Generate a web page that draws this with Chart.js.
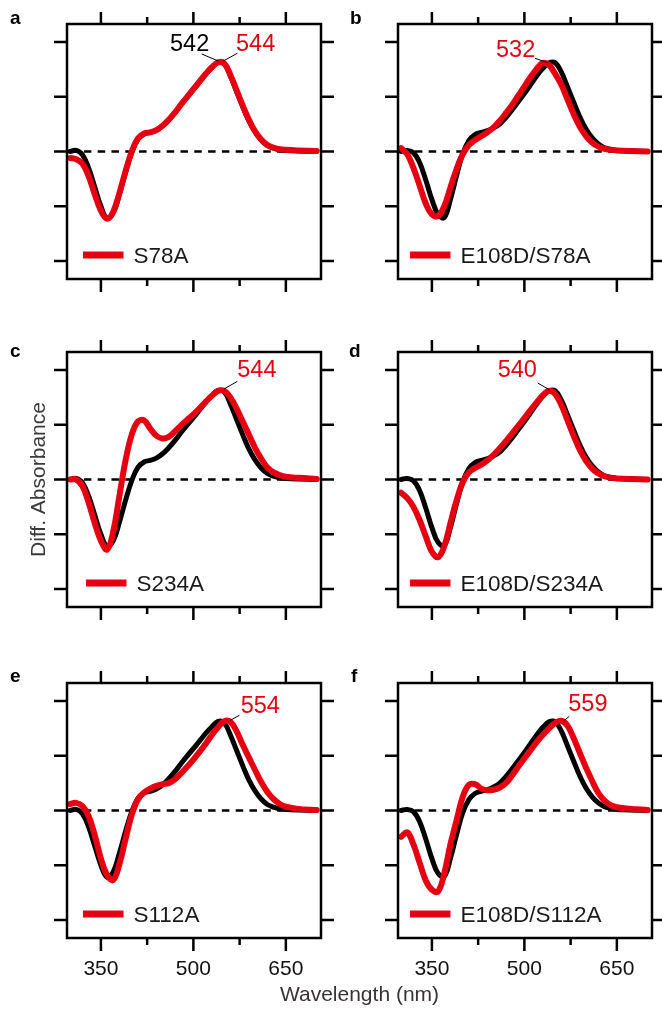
<!DOCTYPE html>
<html><head><meta charset="utf-8">
<script src="https://cdn.jsdelivr.net/npm/chart.js@4.4.1/dist/chart.umd.min.js"></script>
<style>
html,body{margin:0;padding:0;background:#fff;}
#wrap{position:relative;width:662px;height:1012px;overflow:hidden;background:#fff;}
#wrap canvas{position:absolute;left:0;top:0;}
</style></head><body><div id="wrap"></div>
<script>
// ---------- DATA ----------
const wavelengths = [300,310,320,330,340,350,360,370,380,390,400,410,420,430,440,450,460,470,480,490,500,510,520,530,540,550,560,570,580,590,600,610,620,630,640,650,670,700];

// reference spectra (black)
const blackWT    = [0.00,0.02,-0.06,-0.30,-0.65,-1.00,-1.22,-1.12,-0.78,-0.38,-0.02,0.22,0.32,0.35,0.39,0.47,0.58,0.71,0.86,1.00,1.13,1.27,1.41,1.53,1.63,1.60,1.38,1.10,0.82,0.56,0.36,0.21,0.11,0.06,0.03,0.02,0.01,0.00];
const blackE108D = [0.00,0.02,-0.02,-0.20,-0.52,-0.88,-1.15,-1.21,-0.88,-0.44,-0.04,0.20,0.31,0.35,0.38,0.43,0.50,0.62,0.76,0.91,1.06,1.22,1.38,1.52,1.62,1.62,1.45,1.18,0.90,0.63,0.41,0.25,0.14,0.07,0.04,0.02,0.01,0.00];

// mutant spectra (red)
const redS78A       = [-0.12,-0.14,-0.22,-0.45,-0.78,-1.08,-1.23,-1.10,-0.76,-0.36,0.00,0.24,0.33,0.35,0.39,0.47,0.58,0.71,0.86,1.00,1.14,1.28,1.42,1.54,1.63,1.61,1.40,1.12,0.84,0.58,0.37,0.22,0.12,0.07,0.04,0.03,0.02,0.01];
const redE108DS78A  = [0.06,-0.05,-0.30,-0.62,-0.95,-1.15,-1.18,-1.00,-0.66,-0.32,-0.05,0.12,0.21,0.28,0.35,0.44,0.56,0.70,0.85,1.02,1.19,1.36,1.51,1.62,1.58,1.42,1.22,0.95,0.68,0.45,0.28,0.16,0.09,0.05,0.03,0.02,0.01,0.00];
const redS234A      = [0.00,0.00,-0.12,-0.42,-0.80,-1.12,-1.28,-0.95,-0.30,0.35,0.82,1.06,1.08,0.93,0.80,0.75,0.78,0.88,0.99,1.09,1.19,1.30,1.42,1.53,1.62,1.62,1.50,1.30,1.06,0.82,0.58,0.38,0.22,0.13,0.08,0.05,0.03,0.01];
const redE108DS234A = [-0.24,-0.34,-0.50,-0.74,-1.04,-1.32,-1.42,-1.22,-0.80,-0.38,-0.05,0.13,0.21,0.27,0.35,0.45,0.57,0.70,0.84,0.98,1.12,1.27,1.41,1.54,1.62,1.56,1.36,1.08,0.80,0.54,0.34,0.20,0.11,0.06,0.03,0.02,0.01,0.00];
const redS112A      = [0.12,0.14,0.08,-0.10,-0.45,-0.88,-1.18,-1.27,-0.98,-0.52,-0.08,0.20,0.33,0.40,0.45,0.48,0.50,0.57,0.68,0.80,0.93,1.07,1.22,1.38,1.52,1.63,1.62,1.45,1.20,0.97,0.74,0.52,0.34,0.21,0.12,0.07,0.03,0.01];
const redE108DS112A = [-0.48,-0.40,-0.62,-0.95,-1.28,-1.45,-1.48,-1.15,-0.62,-0.18,0.25,0.47,0.48,0.40,0.37,0.38,0.42,0.50,0.64,0.80,0.95,1.10,1.25,1.38,1.50,1.60,1.64,1.55,1.32,1.05,0.78,0.54,0.32,0.18,0.10,0.06,0.03,0.01];

const baselineRange = [300, 700];
const yTicks = [-2, -1, 0, 1, 2];
const xMajorTicks = [350, 500, 650];
const xMinorTicks = [425, 575];
const xTickLabels = ['350', '500', '650'];

const panelLetters = ['a', 'b', 'c', 'd', 'e', 'f'];
const legendLabels = ['S78A', 'E108D/S78A', 'S234A', 'E108D/S234A', 'S112A', 'E108D/S112A'];
const redSeries   = [redS78A, redE108DS78A, redS234A, redE108DS234A, redS112A, redE108DS112A];
const blackSeries = [blackWT, blackE108D, blackWT, blackE108D, blackWT, blackE108D];
// peak annotations: [text, colour key]
const peakLabels = [
  [['542', 'black'], ['544', 'red']],
  [['532', 'red']],
  [['544', 'red']],
  [['540', 'red']],
  [['554', 'red']],
  [['559', 'red']]
];
const xAxisTitle = 'Wavelength (nm)';
const yAxisTitle = 'Diff. Absorbance';

// ---------- LAYOUT / STYLE ----------
const RED = '#e50012';
const FONT = "'Liberation Sans', Arial, Helvetica, sans-serif";
const W = 662, H = 1012;
const colX = [67, 398];
const rowY = [24, 352, 683];
const BOX_W = 254, BOX_H = 255;
// annotation geometry relative to box (left, top)
const annoPos = [
  {texts: [[103, 27], [169, 27]], leaders: [[134.7, 30, 151.3, 37], [156.3, 37, 170.3, 29.3]]},
  {texts: [[98, 32.5]], leaders: [[137, 34.3, 149.7, 38.7]]},
  {texts: [[170.3, 25]], leaders: [[170.3, 29.4, 157, 37]]},
  {texts: [[99.7, 25]], leaders: [[139.7, 31, 151.3, 37.7]]},
  {texts: [[173.7, 30]], leaders: [[172.3, 32.4, 163, 37.4]]},
  {texts: [[170.3, 28.4]], leaders: [[171.3, 33.4, 166.3, 37.4]]}
];
const legendX = [16, 12, 19, 12, 16, 12];
const letterPos = [[10, 24], [350, 24], [10, 357], [349, 357], [10, 682], [351, 682]];

function toPoints(arr) { return wavelengths.map((w, k) => ({x: w, y: arr[k]})); }

function makePanel(i) {
  const col = i % 2, row = Math.floor(i / 2);
  const bl = colX[col], bt = rowY[row];
  const canvas = document.createElement('canvas');
  canvas.width = W; canvas.height = H;
  canvas.style.width = W + 'px'; canvas.style.height = H + 'px';
  document.getElementById('wrap').appendChild(canvas);

  const framePlugin = {
    id: 'frame' + i,
    afterDraw(chart) {
      const {ctx, chartArea: ca, scales} = chart;
      const xs = scales.x, ys = scales.y;
      ctx.save();
      ctx.strokeStyle = '#000';
      ctx.lineCap = 'butt';
      ctx.lineWidth = 2.5;
      ctx.strokeRect(ca.left, ca.top, ca.right - ca.left, ca.bottom - ca.top);
      ctx.beginPath();
      yTicks.forEach(v => {
        const py = ys.getPixelForValue(v);
        ctx.moveTo(ca.left - 13, py); ctx.lineTo(ca.left, py);
        ctx.moveTo(ca.right, py); ctx.lineTo(ca.right + 13, py);
      });
      xMajorTicks.forEach(v => {
        const px = xs.getPixelForValue(v);
        ctx.moveTo(px, ca.top - 12); ctx.lineTo(px, ca.top);
        ctx.moveTo(px, ca.bottom); ctx.lineTo(px, ca.bottom + 13);
      });
      xMinorTicks.forEach(v => {
        const px = xs.getPixelForValue(v);
        ctx.moveTo(px, ca.top - 7); ctx.lineTo(px, ca.top);
        ctx.moveTo(px, ca.bottom); ctx.lineTo(px, ca.bottom + 7);
      });
      ctx.stroke();

      // tick labels (bottom row)
      if (row === 2) {
        ctx.fillStyle = '#111';
        ctx.font = '21px ' + FONT;
        ctx.textAlign = 'center';
        ctx.textBaseline = 'alphabetic';
        xMajorTicks.forEach((v, k) => {
          ctx.fillText(xTickLabels[k], xs.getPixelForValue(v), ca.bottom + 37);
        });
      }

      // legend
      const ly = ca.top + 231;
      const lx = ca.left + legendX[i];
      ctx.strokeStyle = RED;
      ctx.lineWidth = 7;
      ctx.beginPath(); ctx.moveTo(lx, ly); ctx.lineTo(lx + 40.5, ly); ctx.stroke();
      ctx.fillStyle = '#1a1a1a';
      ctx.font = '22.5px ' + FONT;
      ctx.textAlign = 'left';
      ctx.fillText(legendLabels[i], lx + 50.5, ly + 7.5);

      // peak annotations
      const ap = annoPos[i];
      ctx.font = '23.5px ' + FONT;
      peakLabels[i].forEach((lab, k) => {
        ctx.fillStyle = lab[1] === 'red' ? RED : '#000';
        ctx.fillText(lab[0], ca.left + ap.texts[k][0], ca.top + ap.texts[k][1]);
      });
      ctx.strokeStyle = '#000';
      ctx.lineWidth = 1;
      ap.leaders.forEach(l => {
        ctx.beginPath();
        ctx.moveTo(ca.left + l[0], ca.top + l[1]);
        ctx.lineTo(ca.left + l[2], ca.top + l[3]);
        ctx.stroke();
      });

      // panel letter
      ctx.fillStyle = '#000';
      ctx.font = 'bold 19px ' + FONT;
      ctx.fillText(panelLetters[i], letterPos[i][0], letterPos[i][1]);

      // axis titles
      if (i === 2) {
        ctx.save();
        ctx.translate(45, (ca.top + ca.bottom) / 2);
        ctx.rotate(-Math.PI / 2);
        ctx.textAlign = 'center';
        ctx.fillStyle = '#3a3a3a';
        ctx.font = '21px ' + FONT;
        ctx.fillText(yAxisTitle, 0, 0);
        ctx.restore();
      }
      if (i === 4) {
        ctx.textAlign = 'center';
        ctx.fillStyle = '#3a3333';
        ctx.font = '21px ' + FONT;
        ctx.fillText(xAxisTitle, 359.5, 1000.5);
      }
      ctx.restore();
    }
  };

  new Chart(canvas, {
    type: 'line',
    data: {
      datasets: [
        {label: legendLabels[i], data: toPoints(redSeries[i]), borderColor: RED, borderWidth: 6,
         tension: 0.4, pointRadius: 0, borderCapStyle: 'round', borderJoinStyle: 'round', fill: false},
        {label: 'reference', data: toPoints(blackSeries[i]), borderColor: '#000', borderWidth: 5,
         tension: 0.4, pointRadius: 0, borderCapStyle: 'round', borderJoinStyle: 'round', fill: false},
        {label: 'zero', data: baselineRange.map(w => ({x: w, y: 0})), borderColor: '#000', borderWidth: 2.5,
         borderDash: [7.5, 6.3], pointRadius: 0, tension: 0, fill: false}
      ]
    },
    options: {
      responsive: false,
      animation: false,
      devicePixelRatio: 1,
      events: [],
      layout: {padding: {left: bl, top: bt, right: W - bl - BOX_W, bottom: H - bt - BOX_H}},
      scales: {
        x: {type: 'linear', min: 295, max: 707, display: false},
        y: {type: 'linear', min: -2.33, max: 2.33, display: false}
      },
      plugins: {legend: {display: false}, tooltip: {enabled: false}}
    },
    plugins: [framePlugin]
  });
}

for (let i = 0; i < 6; i++) makePanel(i);
</script>
</body></html>
